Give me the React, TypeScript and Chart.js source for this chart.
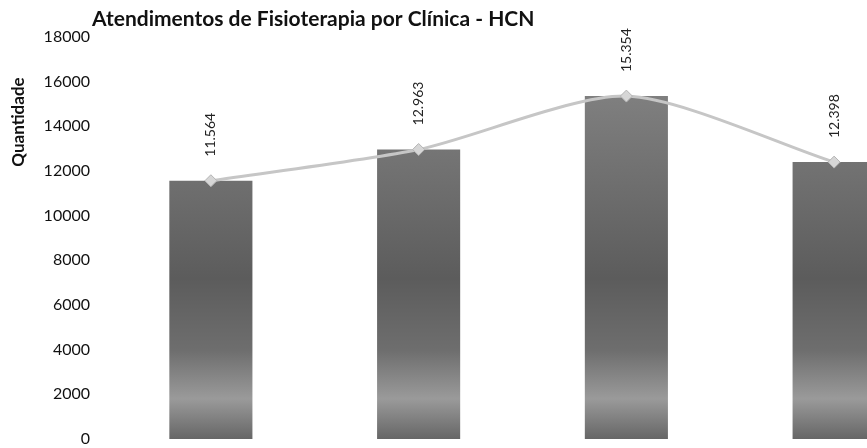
import React, { useEffect, useRef } from "react";
import { Chart, registerables } from "chart.js";

Chart.register(...registerables);

const categories = ["Clínica 1", "Clínica 2", "Clínica 3", "Clínica 4"];
const attendances = [11564, 12963, 15354, 12398];
const yTicks = [0, 2000, 4000, 6000, 8000, 10000, 12000, 14000, 16000, 18000];
const titleText = "Atendimentos de Fisioterapia por Clínica - HCN";
const yAxisTitle = "Quantidade";

const FONT = "Lato, 'Open Sans', sans-serif";

function fmt(v: number): string {
  return String(v).replace(/\B(?=(\d{3})+(?!\d))/g, ".");
}

export default function App() {
  const ref = useRef<HTMLCanvasElement | null>(null);

  useEffect(() => {
    const canvas = ref.current;
    if (!canvas) return;

    const overlay = {
      id: "overlay",
      afterDatasetsDraw(chart: any) {
        const ctx = chart.ctx;
        ctx.save();
        const meta = chart.getDatasetMeta(0);
        ctx.fillStyle = "#222";
        ctx.font = `14px ${FONT}`;
        ctx.textAlign = "left";
        ctx.textBaseline = "middle";
        meta.data.forEach((pt: any, i: number) => {
          ctx.save();
          ctx.translate(pt.x, pt.y - 24);
          ctx.rotate(-Math.PI / 2);
          ctx.fillText(fmt(attendances[i]), 0, 0);
          ctx.restore();
        });
        ctx.font = `bold 21px ${FONT}`;
        ctx.fillStyle = "#111";
        ctx.textAlign = "left";
        ctx.textBaseline = "alphabetic";
        ctx.fillText(titleText, 92, 26);
        ctx.save();
        ctx.translate(19, 122);
        ctx.rotate(-Math.PI / 2);
        ctx.font = `bold 17px ${FONT}`;
        ctx.textAlign = "center";
        ctx.textBaseline = "middle";
        ctx.fillText(yAxisTitle, 0, 0);
        ctx.restore();
        ctx.restore();
      },
    };

    const chart = new Chart(canvas, {
      type: "bar",
      data: {
        labels: categories,
        datasets: [
          {
            type: "line",
            label: "Linha",
            data: attendances,
            borderColor: "#c6c6c6",
            borderWidth: 3,
            tension: 0.25,
            pointStyle: "rectRot",
            pointRadius: 6,
            pointBackgroundColor: "#d6d6d6",
            pointBorderColor: "#b4b4b4",
            pointBorderWidth: 1,
            order: 0,
          } as any,
          {
            type: "bar",
            label: "Atendimentos",
            data: attendances,
            barPercentage: 0.4,
            categoryPercentage: 1,
            backgroundColor: (c: any) => {
              const area = c.chart.chartArea;
              if (!area) return "#777";
              const g = c.chart.ctx.createLinearGradient(0, area.top, 0, area.bottom);
              g.addColorStop(0, "#8a8a8a");
              g.addColorStop(0.4, "#6c6c6c");
              g.addColorStop(0.6, "#5c5c5c");
              g.addColorStop(0.78, "#6e6e6e");
              g.addColorStop(0.9, "#9a9a9a");
              g.addColorStop(1, "#666666");
              return g;
            },
            order: 1,
          },
        ],
      },
      options: {
        responsive: false,
        animation: false,
        layout: { padding: { top: 37, bottom: 9, right: 12, left: 0 } },
        plugins: {
          legend: { display: false },
          title: { display: false },
          tooltip: { enabled: false },
        },
        scales: {
          x: {
            display: false,
            offset: true,
          },
          y: {
            min: 0,
            max: 18000,
            afterBuildTicks: (s: any) => {
              s.ticks = yTicks.map((v) => ({ value: v }));
            },
            afterFit: (s: any) => {
              s.width = 107;
              s.paddingTop = 0;
              s.paddingBottom = 0;
            },
            ticks: {
              padding: 17,
              color: "#111",
              font: { family: FONT, size: 16 },
              callback: (v: any) => String(v),
            },
            grid: { display: false, drawTicks: false },
            border: { display: false },
          },
        },
      },
      plugins: [overlay],
    });

    return () => chart.destroy();
  }, []);

  return (
    <div
      style={{
        position: "fixed",
        left: 0,
        top: 0,
        width: 867,
        height: 448,
        overflow: "hidden",
        background: "#fff",
      }}
    >
      <canvas ref={ref} width={950} height={448} style={{ display: "block" }} />
    </div>
  );
}
